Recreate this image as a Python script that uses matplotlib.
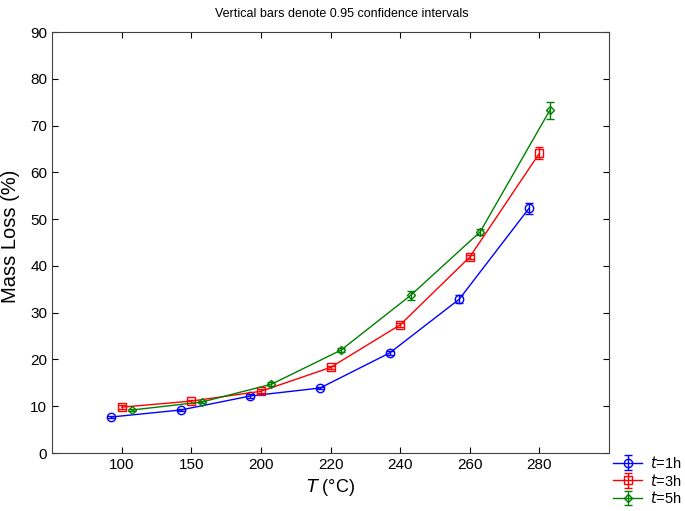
import matplotlib.pyplot as plt
import numpy as np

plt.rcParams['font.family'] = ['Liberation Sans', 'DejaVu Sans']

temps = ['100', '150', '200', '220', '240', '260', '280']
ml_1h = [7.7, 9.2, 12.2, 13.9, 21.4, 32.9, 52.3]
ml_3h = [9.8, 11.1, 13.2, 18.3, 27.4, 41.9, 64.1]
ml_5h = [9.2, 10.9, 14.7, 22.0, 33.7, 47.3, 73.3]
err_1h = [0.3, 0.3, 0.4, 0.3, 0.4, 0.8, 1.2]
err_3h = [0.4, 0.3, 0.4, 0.4, 0.5, 0.5, 1.3]
err_5h = [0.3, 0.3, 0.4, 0.4, 0.9, 0.6, 1.8]

x = np.arange(1, len(temps) + 1)

fig = plt.figure(figsize=(6.85, 5.11), dpi=100)
ax = fig.add_axes([0.076, 0.1135, 0.813, 0.8235])

series = [
    (ml_1h, err_1h, -0.15, 'blue', 'o', 6, r'$\mathit{t}$=1h'),
    (ml_3h, err_3h, 0.0, 'red', 's', 6, r'$\mathit{t}$=3h'),
    (ml_5h, err_5h, 0.15, 'green', 'D', 4.5, r'$\mathit{t}$=5h'),
]
for vals, errs, off, col, mk, ms, lab in series:
    ax.errorbar(x + off, vals, yerr=errs, color=col, marker=mk, ms=ms,
                mfc='none', mew=1.0, lw=1.0, capsize=3, elinewidth=1.0,
                label=lab)

ax.set_xlim(0, 8)
ax.set_ylim(0, 90)
ax.set_xticks(x)
ax.set_xticklabels(temps)
ax.set_yticks(range(0, 91, 10))
ax.tick_params(direction='in', top=True, right=True, labelsize=11, length=4)
for s in ax.spines.values():
    s.set_color('#404040')

ax.set_xlabel(r'$\mathit{T}$ (°C)', fontsize=13)
ax.set_ylabel('Mass Loss (%)', fontsize=14.5)
ax.yaxis.set_label_coords(-0.057, 0.515)
ax.set_title('Vertical bars denote 0.95 confidence intervals', fontsize=9,
             pad=11, x=0.52)

fig.legend(loc='upper left', bbox_to_anchor=(0.895, 0.11), frameon=False,
           fontsize=10.5, handlelength=2.0, handletextpad=0.5,
           labelspacing=0.12, borderpad=0, borderaxespad=0)

fig.savefig('out.png', dpi=100)
